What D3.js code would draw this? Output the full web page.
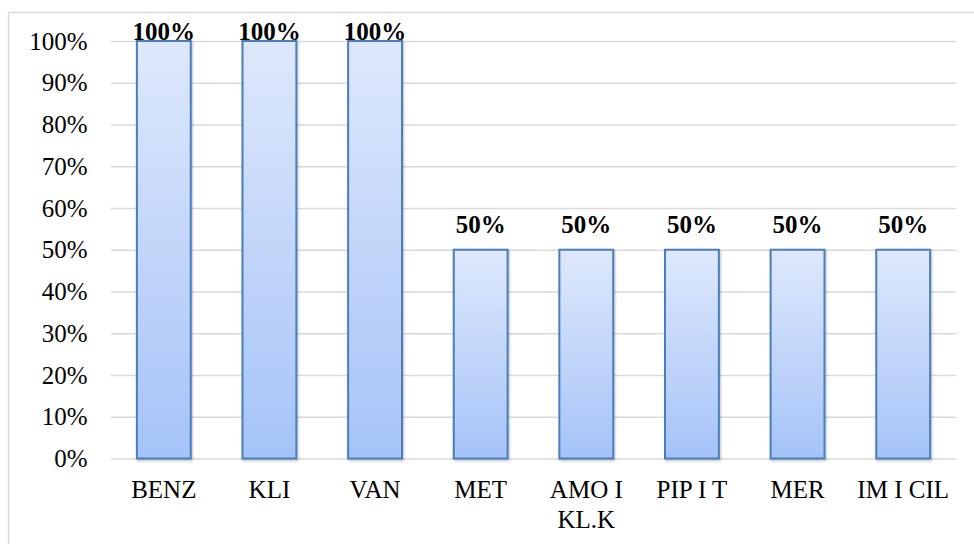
<!DOCTYPE html>
<meta charset="utf-8">
<style>

body {
  margin: 0;
  background: #fff;
}

svg text {
  font-family: "Liberation Serif", "Times New Roman", serif;
  font-size: 25px;
  fill: #000;
}

.grid line {
  stroke: #d9d9d9;
  stroke-width: 1.5px;
}

.label {
  font-weight: bold;
  text-anchor: middle;
}

</style>
<body>
<script src="https://cdn.jsdelivr.net/npm/d3@7"></script>
<script>

var categories = ["BENZ", "KLI", "VAN", "MET", "AMO I KL.K", "PIP I T", "MER", "IM I CIL"];
var values = [1, 1, 1, 0.5, 0.5, 0.5, 0.5, 0.5];
var yTicks = [0, 0.1, 0.2, 0.3, 0.4, 0.5, 0.6, 0.7, 0.8, 0.9, 1];

var width = 974,
    height = 544,
    margin = {top: 41, right: 18, bottom: 85.5, left: 111};

var w = width - margin.left - margin.right,
    h = height - margin.top - margin.bottom;

var serif = '"Liberation Serif", "Times New Roman", serif';

var svg = d3.select("body").append("svg")
    .attr("width", width)
    .attr("height", height);

// gradient + shadow for the bars
var defs = svg.append("defs");
var grad = defs.append("linearGradient")
    .attr("id", "barfill")
    .attr("x1", 0).attr("y1", 0)
    .attr("x2", 0).attr("y2", 1);
grad.append("stop").attr("offset", "0%").attr("stop-color", "#dee8fb");
grad.append("stop").attr("offset", "100%").attr("stop-color", "#a5c3f8");

var shadow = defs.append("filter")
    .attr("id", "shadow")
    .attr("x", "-20%").attr("y", "-20%")
    .attr("width", "140%").attr("height", "140%");
shadow.append("feDropShadow")
    .attr("dx", 1).attr("dy", 1.5)
    .attr("stdDeviation", 1.2)
    .attr("flood-color", "#000")
    .attr("flood-opacity", 0.25);

// chart border
svg.append("rect")
    .attr("x", 8.5)
    .attr("y", 12.5)
    .attr("width", width)
    .attr("height", height)
    .attr("fill", "none")
    .attr("stroke", "#d9d9d9")
    .attr("stroke-width", 1.5);

var g = svg.append("g")
    .attr("transform", "translate(" + margin.left + "," + margin.top + ")");

var x = d3.scaleBand()
    .domain(categories)
    .range([0, w])
    .paddingInner(0.49)
    .paddingOuter(0.245);

var y = d3.scaleLinear()
    .domain([0, 1])
    .range([h, 0]);

// drop d3's default axis font so the serif rule applies
function plain(s) {
  s.attr("font-family", null).attr("font-size", null);
  s.select(".domain").remove();
  s.selectAll("text").style("font-family", serif).style("font-size", "25px");
}

// gridlines
g.append("g")
    .attr("class", "grid")
    .call(d3.axisLeft(y).tickValues(yTicks).tickSize(-w).tickFormat(""))
    .call(plain);

// y axis labels
g.append("g")
    .call(d3.axisLeft(y).tickValues(yTicks).tickSize(0).tickPadding(23.5)
      .tickFormat(d3.format(".0%")))
    .call(plain);

// bars
g.selectAll(".bar")
    .data(values)
  .enter().append("rect")
    .attr("class", "bar")
    .attr("x", function(d, i) { return x(categories[i]); })
    .attr("y", function(d) { return y(d); })
    .attr("width", x.bandwidth())
    .attr("height", function(d) { return h - y(d); })
    .attr("fill", "url(#barfill)")
    .attr("stroke", "#4a7ebb")
    .attr("stroke-width", 2)
    .attr("filter", "url(#shadow)");

// value labels
g.selectAll(".label")
    .data(values)
  .enter().append("text")
    .attr("class", "label")
    .attr("x", function(d, i) { return x(categories[i]) + x.bandwidth() / 2; })
    .attr("y", function(d) { return Math.max(y(d) - 17, y(1) - 1); })
    .text(d3.format(".0%"));

// x axis labels, wrapped to the band width
var xAxis = g.append("g")
    .attr("transform", "translate(0," + h + ")")
    .call(d3.axisBottom(x).tickSize(0).tickPadding(0))
    .call(plain);

xAxis.selectAll("text")
    .attr("dy", null)
    .attr("y", 39.5)
    .each(function() {
      var text = d3.select(this),
          words = text.text().split(" "),
          line = [],
          lineNo = 0,
          tspan = text.text(null).append("tspan").attr("x", 0).attr("y", 39.5);
      words.forEach(function(word) {
        line.push(word);
        tspan.text(line.join(" "));
        if (tspan.node().getComputedTextLength() > x.step() && line.length > 1) {
          line.pop();
          tspan.text(line.join(" "));
          line = [word];
          lineNo++;
          tspan = text.append("tspan")
              .attr("x", 0)
              .attr("y", 39.5 + lineNo * 30)
              .text(word);
        }
      });
    });

</script>
</body>
